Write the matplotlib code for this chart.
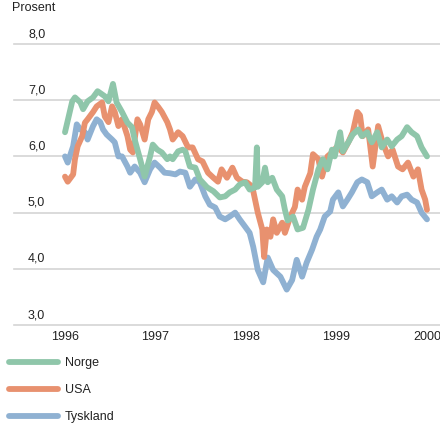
import matplotlib
matplotlib.use('Agg')
import matplotlib.pyplot as plt
import matplotlib.transforms as mtransforms

plt.rcParams['font.family'] = ['Liberation Sans', 'DejaVu Sans']

# Rente (prosent), lest av figuren
norge_x = [1996.00, 1996.08, 1996.11, 1996.17, 1996.20, 1996.25, 1996.31, 1996.36, 1996.44, 1996.48,
           1996.53, 1996.57, 1996.63, 1996.69, 1996.74, 1996.77, 1996.83, 1996.88, 1996.94, 1996.97,
           1997.02, 1997.07, 1997.13, 1997.16, 1997.19, 1997.25, 1997.30, 1997.33, 1997.38, 1997.44,
           1997.49, 1997.57, 1997.64, 1997.71, 1997.77, 1997.82, 1997.88, 1997.93, 1997.99, 1998.04,
           1998.10, 1998.12, 1998.13, 1998.18, 1998.21, 1998.24, 1998.29, 1998.34, 1998.40, 1998.43,
           1998.46, 1998.52, 1998.57, 1998.63, 1998.69, 1998.74, 1998.80, 1998.85, 1998.90, 1998.95,
           1998.98, 1999.04, 1999.07, 1999.13, 1999.18, 1999.24, 1999.28, 1999.34, 1999.39, 1999.45,
           1999.50, 1999.56, 1999.61, 1999.67, 1999.72, 1999.78, 1999.83, 1999.89, 1999.94, 2000.00]
norge_y = [6.43, 6.98, 7.05, 6.96, 6.84, 6.98, 7.05, 7.16, 7.07, 6.98,
           7.29, 6.96, 6.79, 6.60, 6.52, 6.30, 5.95, 5.64, 6.00, 6.21,
           6.12, 6.07, 5.95, 6.00, 5.95, 6.09, 6.12, 6.09, 5.82, 5.80,
           5.59, 5.45, 5.38, 5.27, 5.29, 5.36, 5.41, 5.50, 5.54, 5.41,
           5.45, 6.16, 5.46, 5.54, 5.80, 5.54, 5.62, 5.41, 5.29, 5.05,
           4.86, 4.93, 4.70, 4.73, 5.05, 5.41, 5.77, 5.95, 5.77, 6.12,
           6.00, 6.43, 6.09, 6.25, 6.39, 6.48, 6.36, 6.43, 6.25, 6.43,
           6.16, 6.30, 6.18, 6.30, 6.36, 6.52, 6.43, 6.36, 6.16, 6.00]

usa_x = [1996.00, 1996.03, 1996.09, 1996.11, 1996.14, 1996.19, 1996.22, 1996.25, 1996.31, 1996.35,
         1996.41, 1996.44, 1996.48, 1996.52, 1996.55, 1996.59, 1996.63, 1996.69, 1996.72, 1996.75,
         1996.80, 1996.83, 1996.88, 1996.92, 1996.96, 1996.99, 1997.03, 1997.07, 1997.13, 1997.16,
         1997.19, 1997.25, 1997.30, 1997.36, 1997.41, 1997.47, 1997.52, 1997.58, 1997.64, 1997.69,
         1997.73, 1997.79, 1997.85, 1997.90, 1997.96, 1998.01, 1998.07, 1998.10, 1998.13, 1998.18,
         1998.20, 1998.23, 1998.27, 1998.30, 1998.34, 1998.40, 1998.43, 1998.49, 1998.54, 1998.57,
         1998.62, 1998.65, 1998.71, 1998.74, 1998.80, 1998.84, 1998.90, 1998.95, 1999.01, 1999.07,
         1999.13, 1999.18, 1999.23, 1999.26, 1999.29, 1999.35, 1999.40, 1999.46, 1999.51, 1999.57,
         1999.62, 1999.68, 1999.73, 1999.79, 1999.85, 1999.90, 1999.94, 1999.98, 2000.00]
usa_y = [5.64, 5.55, 5.68, 5.95, 6.18, 6.36, 6.60, 6.66, 6.79, 6.89,
         6.96, 6.71, 6.61, 6.89, 6.79, 6.54, 6.66, 6.36, 6.12, 6.07,
         6.66, 6.57, 6.30, 6.66, 6.79, 6.96, 6.88, 6.79, 6.61, 6.48,
         6.30, 6.43, 6.36, 6.16, 6.16, 5.95, 5.91, 5.71, 5.62, 5.55,
         5.77, 5.62, 5.80, 5.62, 5.55, 5.54, 5.46, 5.23, 5.00, 4.70,
         4.21, 4.70, 4.57, 4.88, 4.64, 4.82, 4.64, 4.93, 5.10, 5.41,
         5.23, 5.46, 5.70, 6.04, 5.95, 5.64, 6.00, 6.07, 6.18, 6.07,
         6.25, 6.43, 6.79, 6.73, 6.36, 6.48, 5.82, 6.54, 6.25, 6.00,
         6.12, 5.82, 5.77, 5.89, 5.64, 5.77, 5.41, 5.23, 5.05]

tyskland_x = [1996.00, 1996.03, 1996.09, 1996.13, 1996.17, 1996.22, 1996.25, 1996.31, 1996.35, 1996.39,
              1996.42, 1996.46, 1996.52, 1996.55, 1996.59, 1996.63, 1996.69, 1996.72, 1996.77, 1996.83,
              1996.88, 1996.94, 1996.99, 1997.05, 1997.10, 1997.16, 1997.22, 1997.27, 1997.33, 1997.38,
              1997.44, 1997.49, 1997.55, 1997.60, 1997.66, 1997.71, 1997.77, 1997.82, 1997.88, 1997.93,
              1997.99, 1998.04, 1998.08, 1998.13, 1998.19, 1998.24, 1998.30, 1998.38, 1998.45, 1998.51,
              1998.56, 1998.62, 1998.67, 1998.73, 1998.78, 1998.82, 1998.87, 1998.93, 1998.96, 1999.02,
              1999.07, 1999.12, 1999.17, 1999.23, 1999.28, 1999.34, 1999.39, 1999.45, 1999.50, 1999.56,
              1999.61, 1999.67, 1999.72, 1999.78, 1999.83, 1999.89, 1999.94, 2000.00]
tyskland_y = [6.00, 5.89, 6.18, 6.57, 6.48, 6.43, 6.30, 6.54, 6.66, 6.61,
              6.48, 6.39, 6.30, 6.25, 6.00, 6.00, 5.82, 5.71, 5.82, 5.71,
              5.54, 5.77, 5.89, 5.80, 5.71, 5.70, 5.68, 5.73, 5.71, 5.46,
              5.59, 5.54, 5.29, 5.14, 5.09, 4.93, 4.88, 4.93, 5.00, 4.88,
              4.75, 4.64, 4.39, 3.98, 3.76, 4.20, 3.98, 3.86, 3.63, 3.80,
              4.16, 3.86, 4.11, 4.34, 4.57, 4.70, 4.93, 5.02, 5.23, 5.36,
              5.11, 5.23, 5.36, 5.54, 5.59, 5.54, 5.29, 5.36, 5.41, 5.23,
              5.29, 5.18, 5.29, 5.32, 5.23, 5.18, 5.00, 4.88]

year_ticks = [1996, 1997, 1998, 1999, 2000]
y_ticks = [3.0, 4.0, 5.0, 6.0, 7.0, 8.0]

green = '#8fc6aa'
orange = '#e8916f'
blue = '#8fb1d2'
lw = 4.2
fs = 9
txt = '#222222'

fig = plt.figure(figsize=(4.4, 4.23), dpi=100)
ax = fig.add_axes([14 / 440, 98 / 423, 426 / 440, 281 / 423])

ax.plot(tyskland_x, tyskland_y, color=blue, lw=lw, solid_capstyle='round', solid_joinstyle='round', label='Tyskland', zorder=3)
ax.plot(usa_x, usa_y, color=orange, lw=lw, solid_capstyle='round', solid_joinstyle='round', label='USA', zorder=4)
ax.plot(norge_x, norge_y, color=green, lw=lw, solid_capstyle='round', solid_joinstyle='round', label='Norge', zorder=5)

ax.set_xlim(1996 - 51 / 90.5, 1996 + 375 / 90.5)
ax.set_ylim(3.0, 8.0)

for s in ax.spines.values():
    s.set_visible(False)
ax.set_yticks([])
for v in y_ticks:
    ax.axhline(v, color='#d4d4d4', lw=1.2, zorder=1, clip_on=False)

trans = mtransforms.blended_transform_factory(ax.transAxes, ax.transData)
for v in y_ticks:
    ax.text(14 / 426, v + 0.07, f'{v:.1f}'.replace('.', ','), transform=trans,
            ha='left', va='bottom', fontsize=fs, color=txt)

ax.set_xticks(year_ticks)
ax.set_xticklabels([str(y) for y in year_ticks], fontsize=fs, color=txt)
ax.tick_params(axis='x', length=0, pad=4)

fig.text(12 / 440, 1 - 8 / 423, 'Prosent', ha='left', va='center', fontsize=fs, color=txt)

handles, labels = ax.get_legend_handles_labels()
order = [2, 1, 0]
leg = fig.legend([handles[i] for i in order], [labels[i] for i in order],
                 loc='upper left', bbox_to_anchor=(9 / 440, 1 - 357 / 423),
                 frameon=False, fontsize=fs, handlelength=3.9, handletextpad=0.55,
                 labelspacing=1.2, borderpad=0, borderaxespad=0)
for t in leg.get_texts():
    t.set_color(txt)

fig.savefig('out.png', dpi=100)
